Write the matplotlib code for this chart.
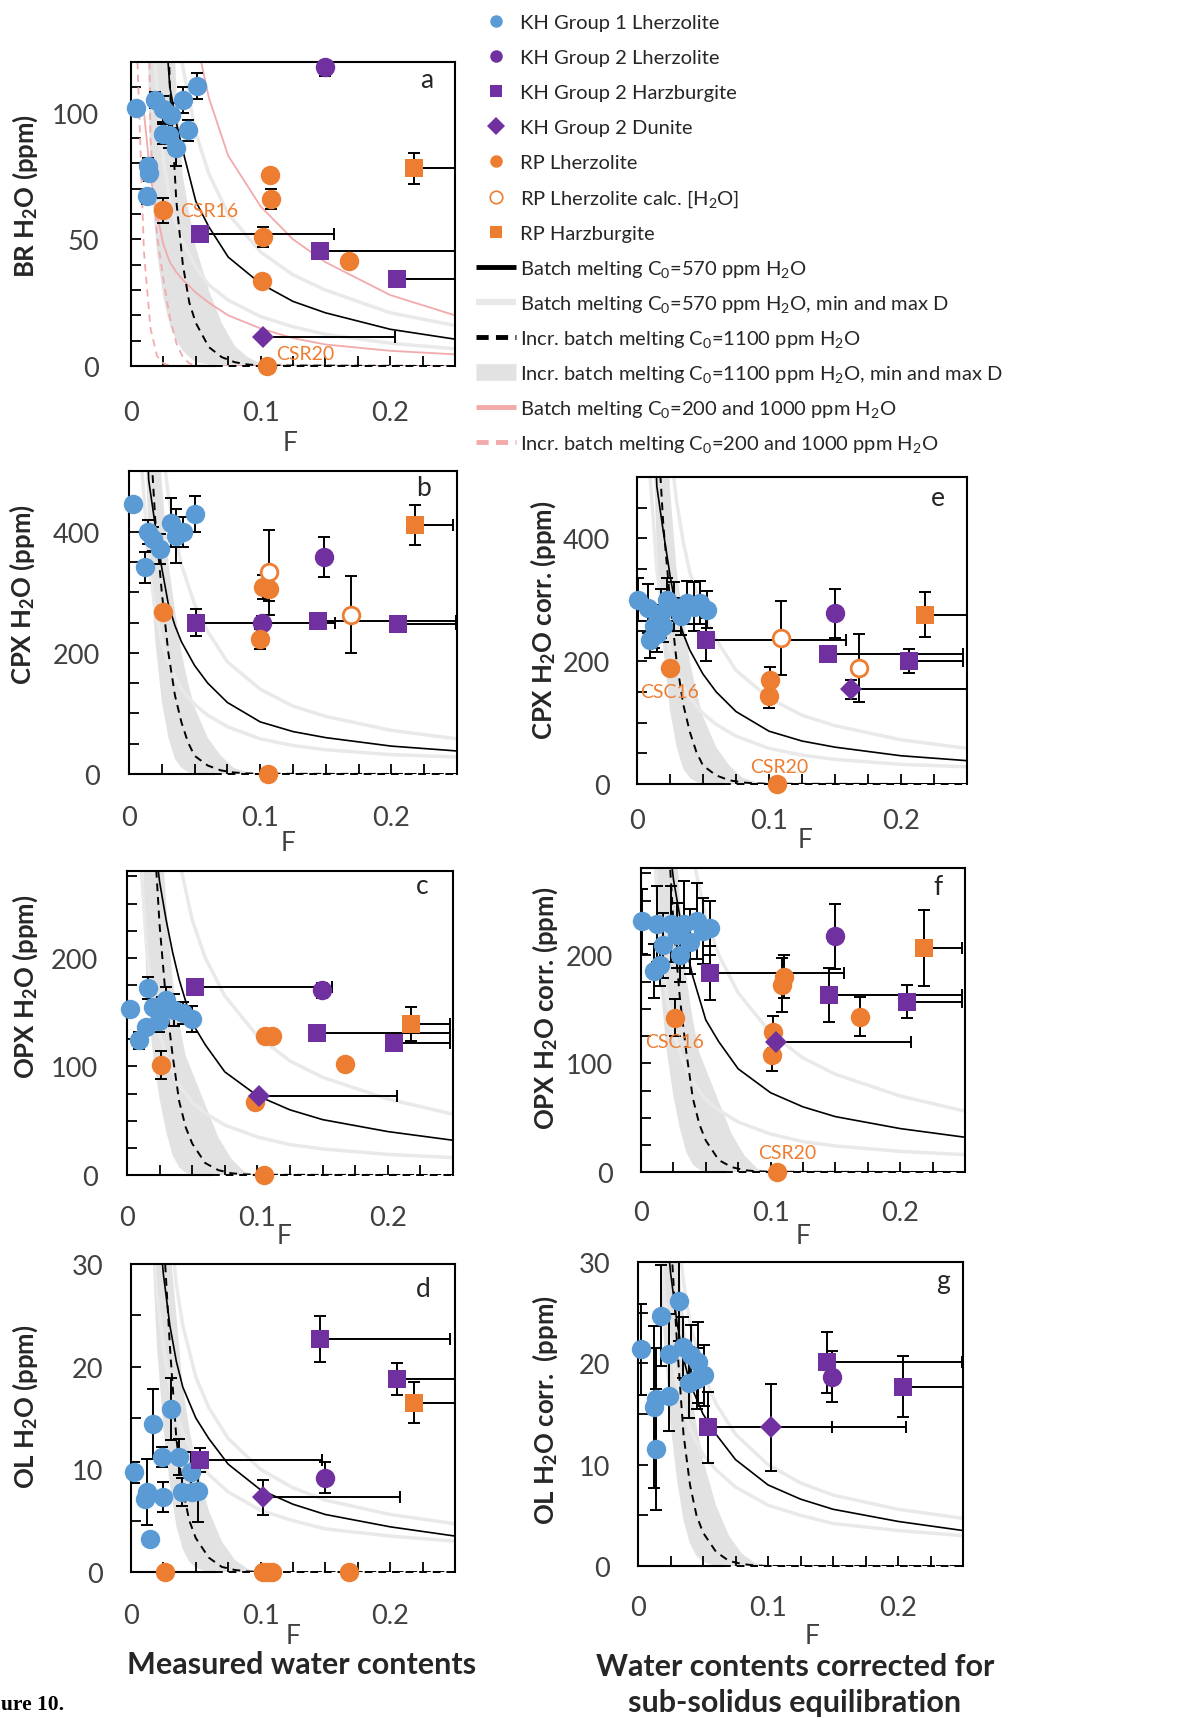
import matplotlib
matplotlib.use("Agg")
import matplotlib.pyplot as plt
from matplotlib.lines import Line2D
from matplotlib.ticker import MultipleLocator, FuncFormatter

plt.rcParams["font.family"] = ["Lato", "DejaVu Sans"]
plt.rcParams["mathtext.fontset"] = "custom"
plt.rcParams["mathtext.rm"] = "Lato"
plt.rcParams["mathtext.it"] = "Lato:italic"
plt.rcParams["mathtext.bf"] = "Lato:bold"

# ---------------------------------------------------------------------------
# Melting models (ppm H2O versus melt fraction F)
# ---------------------------------------------------------------------------
F_BATCH = [0.01, 0.015, 0.02, 0.025, 0.03, 0.035, 0.04, 0.05, 0.06, 0.075, 0.1, 0.125, 0.15, 0.2, 0.25]
F_INCR = [0.005, 0.01, 0.015, 0.02, 0.025, 0.03, 0.035, 0.04, 0.045, 0.05, 0.06, 0.07, 0.08, 0.09, 0.1, 0.25]

# bulk rock
BR_BATCH = [500, 300, 220, 145, 110, 96, 85, 65, 55, 43, 32.5, 25.5, 21, 14.5, 10.6]
BR_BATCH_MAX = [700, 420, 300, 210, 160, 135, 118, 92, 76, 60, 45, 36, 30, 21, 16]
BR_BATCH_MIN = [220, 150, 110, 82, 65, 56, 49, 39, 32, 26, 19.5, 15.5, 12.5, 9, 6.8]
BR_BATCH_1000 = [900, 600, 420, 310, 240, 195, 165, 130, 106, 83, 63, 50, 41, 28, 20]
BR_BATCH_200 = [100, 75, 60, 48, 41, 37, 34, 29, 25, 20, 14.8, 11, 8.5, 6, 4.6]
BR_INCR = [4000, 2000, 900, 400, 200, 110, 65, 40, 25, 17, 7.5, 3.5, 1.5, 0.6, 0.2, 0]
BR_INCR_LO = [600, 200, 75, 45, 27, 16, 10, 6, 3.5, 1.6, 0.5, 0, 0, 0, 0, 0]
BR_INCR_HI = [5000, 2500, 1200, 600, 300, 170, 110, 75, 60, 47, 30, 17, 8, 3.5, 1, 0]
BR_INCR_200 = [120, 45, 15, 4, 1, 0.2, 0, 0, 0, 0, 0, 0, 0, 0, 0, 0]
BR_INCR_1000 = [900, 300, 90, 52, 34, 19, 9, 3.5, 1, 0.2, 0, 0, 0, 0, 0, 0]

# clinopyroxene
CPX_BATCH = [800, 485, 410, 340, 280, 245, 218, 179, 150, 118, 86, 70, 60, 46, 38]
CPX_BATCH_MAX = [1400, 900, 680, 550, 460, 395, 345, 280, 235, 185, 140, 112, 95, 72, 58]
CPX_BATCH_MIN = [500, 350, 270, 220, 185, 160, 140, 115, 97, 78, 58, 47, 40, 32, 28]
CPX_INCR = [3000, 1200, 600, 420, 300, 200, 130, 85, 52, 30, 14, 6, 2.5, 1, 0.4, 0]
CPX_INCR_LO = [1500, 700, 380, 220, 120, 60, 25, 10, 3, 1, 0, 0, 0, 0, 0, 0]
CPX_INCR_HI = [5000, 2000, 1000, 700, 480, 350, 270, 200, 150, 110, 60, 30, 10, 3, 1, 0]

# orthopyroxene
OPX_BATCH = [600, 420, 320, 270, 235, 205, 180, 140, 120, 95, 73, 60, 51, 40, 32]
OPX_BATCH_MAX = [1000, 700, 550, 450, 380, 330, 290, 235, 200, 165, 128, 105, 90, 70, 56]
OPX_BATCH_MIN = [300, 210, 160, 130, 110, 95, 83, 67, 57, 46, 35, 28, 24, 19, 16]
OPX_INCR = [2000, 900, 500, 330, 230, 160, 110, 68, 44, 29, 11, 4.5, 1.6, 0.6, 0.2, 0]
OPX_INCR_LO = [800, 400, 170, 110, 70, 40, 18, 7, 2, 0.5, 0, 0, 0, 0, 0, 0]
OPX_INCR_HI = [3000, 1500, 800, 500, 350, 250, 180, 140, 110, 95, 65, 35, 15, 3, 0.5, 0]

# olivine
OL_BATCH = [80, 50, 36, 29, 24, 20.5, 18, 15, 13, 10.5, 8, 6.6, 5.6, 4.4, 3.5]
OL_BATCH_MAX = [120, 80, 55, 42, 34, 28, 24, 19, 16, 13, 10, 8.2, 7, 5.6, 4.7]
OL_BATCH_MIN = [55, 36, 27, 22, 18, 15.5, 13.5, 11, 9.5, 7.8, 6, 5, 4.2, 3.5, 3]
OL_INCR = [300, 120, 70, 45, 33, 22, 13, 8, 5, 3.3, 1.4, 0.5, 0.2, 0.05, 0, 0]
OL_INCR_LO = [150, 60, 35, 22, 14, 8.5, 4.5, 2.2, 1.0, 0.4, 0, 0, 0, 0, 0, 0]
OL_INCR_HI = [500, 200, 100, 60, 42, 32, 25, 18, 14, 10.5, 6, 3, 1.2, 0.3, 0, 0]

# ---------------------------------------------------------------------------
# Samples: F, H2O (ppm), 1 s.d. on H2O, upper F estimate
# ---------------------------------------------------------------------------
# a - bulk rock
BR_KH1_F = [0.004, 0.012, 0.013, 0.014, 0.0185, 0.025, 0.025, 0.029, 0.031, 0.035, 0.040, 0.044, 0.051]
BR_KH1_Y = [102, 67, 79, 76, 105, 101.5, 91.5, 91, 99, 86, 105, 93, 110.5]
BR_KH1_ERR = [0, 3, 3, 3, 3, 5, 4, 5, 5, 7, 5, 4, 5]
BR_KH2L_F, BR_KH2L_Y, BR_KH2L_ERR = [0.15], [118], [3.5]
BR_KH2H_F = [0.053, 0.146, 0.205]
BR_KH2H_Y = [52, 45.5, 34.5]
BR_KH2H_FMAX = [0.157, 0.3, 0.3]
BR_KH2D_F, BR_KH2D_Y, BR_KH2D_FMAX = [0.102], [11.3], [0.204]
BR_RPL_F = [0.025, 0.107, 0.108, 0.102, 0.101, 0.168, 0.105]
BR_RPL_Y = [61.5, 75.5, 66, 51, 33.5, 41.5, 0]
BR_RPL_ERR = [5, 0, 4, 4, 0, 0, 0]
BR_RPH_F, BR_RPH_Y, BR_RPH_ERR, BR_RPH_FMAX = [0.218], [78], [6], [0.3]

# b - clinopyroxene
CPX_KH1_F = [0.003, 0.0145, 0.018, 0.0234, 0.012, 0.032, 0.036, 0.041, 0.050]
CPX_KH1_Y = [445, 399, 388, 371, 341, 415, 393, 399, 429]
CPX_KH1_ERR = [0, 20, 20, 25, 25, 40, 45, 25, 30]
CPX_KH2L_F, CPX_KH2L_Y, CPX_KH2L_ERR = [0.149, 0.101], [358, 250], [33, 10]
CPX_KH2H_F = [0.051, 0.144, 0.205]
CPX_KH2H_Y = [250, 252, 248]
CPX_KH2H_ERR = [22, 0, 0]
CPX_KH2H_FMAX = [0.157, 0.249, 0.249]
CPX_RPL_F = [0.026, 0.102, 0.107, 0.100, 0.106]
CPX_RPL_Y = [267, 308, 306, 223, 0]
CPX_RPL_ERR = [0, 20, 20, 16, 0]
CPX_RPLC_F, CPX_RPLC_Y, CPX_RPLC_ERR = [0.107, 0.169], [333, 263], [70, 64]
CPX_RPH_F, CPX_RPH_Y, CPX_RPH_ERR, CPX_RPH_FMAX = [0.218], [411], [33], [0.247]

# c - orthopyroxene
OPX_KH1_F = [0.002, 0.0095, 0.0146, 0.016, 0.0197, 0.0248, 0.027, 0.030, 0.036, 0.0427, 0.050]
OPX_KH1_Y = [153, 124, 136, 172, 155, 142, 152, 161, 152, 149, 144]
OPX_KH1_ERR = [0, 8, 0, 10, 0, 10, 12, 12, 15, 10, 12]
OPX_KH2L_F, OPX_KH2L_Y, OPX_KH2L_ERR = [0.1495], [170], [7]
OPX_KH2H_F = [0.052, 0.146, 0.2045]
OPX_KH2H_Y = [173, 131, 122]
OPX_KH2H_FMAX = [0.157, 0.248, 0.248]
OPX_KH2D_F, OPX_KH2D_Y, OPX_KH2D_FMAX = [0.101], [73], [0.207]
OPX_RPL_F = [0.026, 0.106, 0.111, 0.167, 0.098, 0.105]
OPX_RPL_Y = [101, 128, 128, 102, 67, 0]
OPX_RPL_ERR = [13, 0, 0, 0, 0, 0]
OPX_RPH_F, OPX_RPH_Y, OPX_RPH_ERR, OPX_RPH_FMAX = [0.218], [139], [16], [0.248]

# d - olivine
OL_KH1_F = [0.002, 0.011, 0.012, 0.015, 0.017, 0.024, 0.025, 0.031, 0.037, 0.039, 0.046, 0.047, 0.052]
OL_KH1_Y = [9.7, 7.1, 7.8, 3.2, 14.4, 11.2, 7.3, 15.9, 11.2, 7.8, 9.7, 7.8, 7.9]
OL_KH1_ERR = [1, 0, 3.2, 0.5, 3.4, 1, 1.5, 3, 1.8, 1.4, 2, 0, 3]
OL_KH2L_F, OL_KH2L_Y, OL_KH2L_ERR = [0.15], [9.2], [1.5]
OL_KH2H_F = [0.053, 0.146, 0.205]
OL_KH2H_Y = [10.9, 22.7, 18.8]
OL_KH2H_ERR = [1.2, 2.2, 1.6]
OL_KH2H_FMAX = [0.147, 0.246, 0.3]
OL_KH2D_F, OL_KH2D_Y, OL_KH2D_ERR, OL_KH2D_FMAX = [0.102], [7.3], [1.7], [0.2075]
OL_RPL_F = [0.026, 0.102, 0.105, 0.109, 0.168]
OL_RPL_Y = [0, 0, 0, 0, 0]
OL_RPH_F, OL_RPH_Y, OL_RPH_ERR, OL_RPH_FMAX = [0.218], [16.5], [2], [0.3]

# e - clinopyroxene, corrected
CPXC_KH1_F = [0.001, 0.008, 0.010, 0.013, 0.015, 0.018, 0.020, 0.023, 0.028, 0.033, 0.038, 0.043, 0.048, 0.053]
CPXC_KH1_Y = [300, 286, 235, 257, 245, 278, 257, 300, 289, 273, 295, 289, 295, 284]
CPXC_KH1_ERR = [35, 40, 30, 35, 30, 40, 25, 35, 40, 30, 35, 40, 35, 30]
CPXC_KH2L_F, CPXC_KH2L_Y, CPXC_KH2L_ERR = [0.150], [278], [40]
CPXC_KH2H_F = [0.052, 0.145, 0.206]
CPXC_KH2H_Y = [235, 211, 200]
CPXC_KH2H_ERR = [35, 0, 20]
CPXC_KH2H_FMAX = [0.158, 0.247, 0.247]
CPXC_KH2D_F, CPXC_KH2D_Y, CPXC_KH2D_ERR, CPXC_KH2D_FMAX = [0.162], [154], [15], [0.3]
CPXC_RPL_F = [0.025, 0.101, 0.100, 0.106]
CPXC_RPL_Y = [189, 170, 143, 0]
CPXC_RPL_ERR = [0, 20, 20, 0]
CPXC_RPLC_F, CPXC_RPLC_Y, CPXC_RPLC_ERR = [0.109, 0.168], [238, 189], [60, 55]
CPXC_RPH_F, CPXC_RPH_Y, CPXC_RPH_ERR, CPXC_RPH_FMAX = [0.218], [276], [37], [0.3]

# f - orthopyroxene, corrected
OPXC_KH1_F = [0.001, 0.010, 0.012, 0.015, 0.017, 0.023, 0.028, 0.030, 0.033, 0.038, 0.043, 0.048, 0.053]
OPXC_KH1_Y = [231, 185, 228, 191, 209, 228, 218, 200, 228, 212, 231, 222, 225]
OPXC_KH1_ERR = [30, 25, 35, 20, 30, 35, 30, 25, 40, 30, 35, 30, 25]
OPXC_KH2L_F, OPXC_KH2L_Y, OPXC_KH2L_ERR = [0.150], [217], [30]
OPXC_KH2H_F = [0.053, 0.145, 0.205]
OPXC_KH2H_Y = [183, 163, 157]
OPXC_KH2H_ERR = [25, 25, 15]
OPXC_KH2H_FMAX = [0.157, 0.248, 0.248]
OPXC_KH2D_F, OPXC_KH2D_Y, OPXC_KH2D_FMAX = [0.104], [120], [0.208]
OPXC_RPL_F = [0.026, 0.110, 0.109, 0.102, 0.101, 0.169, 0.105]
OPXC_RPL_Y = [142, 180, 172, 129, 108, 143, 0]
OPXC_RPL_ERR = [17, 20, 25, 15, 15, 18, 0]
OPXC_RPH_F, OPXC_RPH_Y, OPXC_RPH_ERR, OPXC_RPH_FMAX = [0.218], [206], [35], [0.248]

# g - olivine, corrected
OLC_KH1_F = [0.0023, 0.0125, 0.0138, 0.0138, 0.0177, 0.024, 0.024, 0.0318, 0.0344, 0.0395, 0.041, 0.045, 0.046, 0.051]
OLC_KH1_Y = [21.4, 15.7, 16.5, 11.5, 24.7, 16.8, 20.9, 26.2, 21.6, 18.1, 20.8, 18.5, 20.1, 18.8]
OLC_KH1_ERR = [4.5, 8, 5, 6, 5, 3.5, 4, 4, 3, 3.5, 3, 3, 4, 3]
OLC_KH2L_F, OLC_KH2L_Y, OLC_KH2L_ERR = [0.149], [18.7], [2.5]
OLC_KH2H_F = [0.054, 0.145, 0.204]
OLC_KH2H_Y = [13.7, 20.1, 17.7]
OLC_KH2H_ERR = [3.5, 3, 3]
OLC_KH2H_FMAX = [0.149, 0.249, 0.3]
OLC_KH2D_F, OLC_KH2D_Y, OLC_KH2D_ERR, OLC_KH2D_FMAX = [0.1026], [13.7], [4.3], [0.206]

LEGEND_LABELS = [
    "KH Group 1 Lherzolite",
    "KH Group 2 Lherzolite",
    "KH Group 2 Harzburgite",
    "KH Group 2 Dunite",
    "RP Lherzolite",
    "RP Lherzolite calc. [H$_2$O]",
    "RP Harzburgite",
    "Batch melting C$_0$=570 ppm H$_2$O",
    "Batch melting C$_0$=570 ppm H$_2$O, min and max D",
    "Incr. batch melting C$_0$=1100 ppm H$_2$O",
    "Incr. batch melting C$_0$=1100 ppm H$_2$O, min and max D",
    "Batch melting C$_0$=200 and 1000 ppm H$_2$O",
    "Incr. batch melting C$_0$=200 and 1000 ppm H$_2$O",
]

# ---------------------------------------------------------------------------
BLUE = "#5b9bd5"
PURPLE = "#7030a0"
ORANGE = "#ed7d31"
GREY_LINE = "#e9e9e9"
GREY_BAND = "#e2e2e2"
PINK = "#f2aaaa"
DASH = (0, (4, 3))
TICK_COLOR = "#404040"
TEXT_COLOR = "#262626"

W, H = 1185, 1724
fig = plt.figure(figsize=(W / 100, H / 100), dpi=100)


def px(x, y):
    """Pixel position (from top left) to figure fraction."""
    return x / W, 1 - y / H


def make_axes(l, t, r, b):
    return fig.add_axes([l / W, 1 - b / H, (r - l) / W, (b - t) / H])


def draw_models(ax, batch, bmin, bmax, incr, ilo, ihi):
    ax.fill_between(F_INCR, ilo, ihi, color=GREY_BAND, lw=0, zorder=1)
    ax.plot(F_BATCH, bmin, color=GREY_LINE, lw=2.5, zorder=1.5)
    ax.plot(F_BATCH, bmax, color=GREY_LINE, lw=2.5, zorder=1.5)
    ax.plot(F_BATCH, batch, color="k", lw=1.2, zorder=2)
    ax.plot(F_INCR, incr, color="k", lw=1.4, ls=DASH, zorder=2)


def draw_points(ax, f, y, err=None, fmax=None, marker="o", color=BLUE,
                hollow=False, ms=14):
    xerr = None
    if fmax is not None:
        xerr = [[0] * len(f), [m - x for m, x in zip(fmax, f)]]
    if err is not None or xerr is not None:
        ax.errorbar(f, y, yerr=err, xerr=xerr, fmt="none", ecolor="k",
                    elinewidth=1.4, capsize=4, capthick=1.4, zorder=3)
    ax.plot(f, y, ls="none", marker=marker, ms=ms,
            mfc="white" if hollow else color, mec=color,
            mew=2 if hollow else 0, zorder=4, clip_on=False)


def style_axes(ax, ymax, ymajor, yminor, ylabel, xpad, ypad,
               ylab_pos, xlab_pos, letter_pos, letter):
    ax.set_xlim(0, 0.25)
    ax.set_ylim(0, ymax)
    ax.xaxis.set_major_locator(MultipleLocator(0.1))
    ax.xaxis.set_minor_locator(MultipleLocator(0.025))
    ax.yaxis.set_major_locator(MultipleLocator(ymajor))
    ax.yaxis.set_minor_locator(MultipleLocator(yminor))
    fmt = FuncFormatter(lambda v, _: f"{v:g}")
    ax.xaxis.set_major_formatter(fmt)
    ax.yaxis.set_major_formatter(fmt)
    ax.tick_params(which="both", direction="in", length=7, width=1.3,
                   top=False, right=False, labelsize=19.5, labelcolor=TICK_COLOR)
    ax.tick_params(axis="x", which="major", pad=xpad)
    ax.tick_params(axis="y", which="major", pad=ypad)
    for side in ax.spines.values():
        side.set_linewidth(1.5)
    # the x axis line is solid only until the incremental model reaches zero
    ax.spines["bottom"].set_bounds(0, 0.065)
    ax.axhline(0, xmin=0.065 / 0.25, xmax=1, color="k", lw=1.4, ls=DASH,
               clip_on=False, zorder=2.5)

    ax.set_ylabel(ylabel, fontsize=18.5, fontweight="bold", color=TEXT_COLOR)
    ax.yaxis.set_label_coords(*px(*ylab_pos), transform=fig.transFigure)
    ax.set_xlabel("F", fontsize=19, color=TICK_COLOR)
    ax.xaxis.set_label_coords(*px(*xlab_pos), transform=fig.transFigure)
    fig.text(*px(*letter_pos), letter, fontsize=19, color=TEXT_COLOR,
             ha="center", va="center")


# ---- panel a ---------------------------------------------------------------
ax = make_axes(131, 63, 455, 367)
ax.plot(F_BATCH, BR_BATCH_200, color=PINK, lw=1.3, zorder=1.6)
ax.plot(F_BATCH, BR_BATCH_1000, color=PINK, lw=1.3, zorder=1.6)
ax.plot(F_INCR, BR_INCR_200, color=PINK, lw=1.3, ls=DASH, zorder=1.6)
ax.plot(F_INCR, BR_INCR_1000, color=PINK, lw=1.3, ls=DASH, zorder=1.6)
draw_models(ax, BR_BATCH, BR_BATCH_MIN, BR_BATCH_MAX, BR_INCR, BR_INCR_LO, BR_INCR_HI)
draw_points(ax, BR_KH1_F, BR_KH1_Y, BR_KH1_ERR)
draw_points(ax, BR_KH2L_F, BR_KH2L_Y, BR_KH2L_ERR, color=PURPLE)
draw_points(ax, BR_KH2H_F, BR_KH2H_Y, fmax=BR_KH2H_FMAX, marker="s", color=PURPLE, ms=13)
draw_points(ax, BR_KH2D_F, BR_KH2D_Y, fmax=BR_KH2D_FMAX, marker="D", color=PURPLE, ms=11)
draw_points(ax, BR_RPL_F, BR_RPL_Y, BR_RPL_ERR, color=ORANGE)
draw_points(ax, BR_RPH_F, BR_RPH_Y, BR_RPH_ERR, BR_RPH_FMAX, marker="s", color=ORANGE, ms=13)
ax.text(BR_RPL_F[0] + 0.013, BR_RPL_Y[0], "CSR16", color=ORANGE, fontsize=14, va="center", zorder=5)
ax.text(BR_RPL_F[-1] + 0.007, 5, "CSR20", color=ORANGE, fontsize=14, va="center", zorder=5)
style_axes(ax, 120, 50, 10, r"BR H$_\mathbf{2}$O (ppm)", 24.5, 23,
           (40, 196), (290, 431), (427, 80), "a")

# ---- panel b ---------------------------------------------------------------
ax = make_axes(129, 472, 457, 775)
draw_models(ax, CPX_BATCH, CPX_BATCH_MIN, CPX_BATCH_MAX, CPX_INCR, CPX_INCR_LO, CPX_INCR_HI)
draw_points(ax, CPX_KH1_F, CPX_KH1_Y, CPX_KH1_ERR)
draw_points(ax, CPX_KH2L_F, CPX_KH2L_Y, CPX_KH2L_ERR, color=PURPLE)
draw_points(ax, CPX_KH2H_F, CPX_KH2H_Y, CPX_KH2H_ERR, CPX_KH2H_FMAX, marker="s", color=PURPLE, ms=13)
draw_points(ax, CPX_RPL_F, CPX_RPL_Y, CPX_RPL_ERR, color=ORANGE)
draw_points(ax, CPX_RPLC_F, CPX_RPLC_Y, CPX_RPLC_ERR, color=ORANGE, hollow=True, ms=12)
draw_points(ax, CPX_RPH_F, CPX_RPH_Y, CPX_RPH_ERR, CPX_RPH_FMAX, marker="s", color=ORANGE, ms=13)
style_axes(ax, 500, 200, 50, r"CPX H$_\mathbf{2}$O (ppm)", 22, 21,
           (37, 595), (288, 831), (423, 488), "b")

# ---- panel c ---------------------------------------------------------------
ax = make_axes(127, 872, 453, 1176)
draw_models(ax, OPX_BATCH, OPX_BATCH_MIN, OPX_BATCH_MAX, OPX_INCR, OPX_INCR_LO, OPX_INCR_HI)
draw_points(ax, OPX_KH1_F, OPX_KH1_Y, OPX_KH1_ERR)
draw_points(ax, OPX_KH2L_F, OPX_KH2L_Y, OPX_KH2L_ERR, color=PURPLE)
draw_points(ax, OPX_KH2H_F, OPX_KH2H_Y, fmax=OPX_KH2H_FMAX, marker="s", color=PURPLE, ms=13)
draw_points(ax, OPX_RPL_F, OPX_RPL_Y, OPX_RPL_ERR, color=ORANGE)
draw_points(ax, OPX_KH2D_F, OPX_KH2D_Y, fmax=OPX_KH2D_FMAX, marker="D", color=PURPLE, ms=11)
draw_points(ax, OPX_RPH_F, OPX_RPH_Y, OPX_RPH_ERR, OPX_RPH_FMAX, marker="s", color=ORANGE, ms=13)
style_axes(ax, 280, 100, 25, r"OPX H$_\mathbf{2}$O (ppm)", 21.5, 21,
           (40, 987), (284, 1224), (422, 887), "c")

# ---- panel d ---------------------------------------------------------------
ax = make_axes(131, 1265, 455, 1573)
draw_models(ax, OL_BATCH, OL_BATCH_MIN, OL_BATCH_MAX, OL_INCR, OL_INCR_LO, OL_INCR_HI)
draw_points(ax, OL_KH1_F, OL_KH1_Y, OL_KH1_ERR)
draw_points(ax, OL_KH2L_F, OL_KH2L_Y, OL_KH2L_ERR, color=PURPLE)
draw_points(ax, OL_KH2H_F, OL_KH2H_Y, OL_KH2H_ERR, OL_KH2H_FMAX, marker="s", color=PURPLE, ms=13)
draw_points(ax, OL_KH2D_F, OL_KH2D_Y, OL_KH2D_ERR, OL_KH2D_FMAX, marker="D", color=PURPLE, ms=11)
draw_points(ax, OL_RPL_F, OL_RPL_Y, color=ORANGE)
draw_points(ax, OL_RPH_F, OL_RPH_Y, OL_RPH_ERR, OL_RPH_FMAX, marker="s", color=ORANGE, ms=13)
style_axes(ax, 30, 10, 5, r"OL H$_\mathbf{2}$O (ppm)", 22, 20,
           (40, 1407), (293, 1624), (423, 1290), "d")

# ---- panel e ---------------------------------------------------------------
ax = make_axes(637, 478, 967, 785)
draw_models(ax, CPX_BATCH, CPX_BATCH_MIN, CPX_BATCH_MAX, CPX_INCR, CPX_INCR_LO, CPX_INCR_HI)
draw_points(ax, CPXC_KH1_F, CPXC_KH1_Y, CPXC_KH1_ERR)
draw_points(ax, CPXC_KH2L_F, CPXC_KH2L_Y, CPXC_KH2L_ERR, color=PURPLE)
draw_points(ax, CPXC_KH2H_F, CPXC_KH2H_Y, CPXC_KH2H_ERR, CPXC_KH2H_FMAX, marker="s", color=PURPLE, ms=13)
draw_points(ax, CPXC_KH2D_F, CPXC_KH2D_Y, CPXC_KH2D_ERR, CPXC_KH2D_FMAX, marker="D", color=PURPLE, ms=11)
draw_points(ax, CPXC_RPL_F, CPXC_RPL_Y, CPXC_RPL_ERR, color=ORANGE)
draw_points(ax, CPXC_RPLC_F, CPXC_RPLC_Y, CPXC_RPLC_ERR, color=ORANGE, hollow=True, ms=12)
draw_points(ax, CPXC_RPH_F, CPXC_RPH_Y, CPXC_RPH_ERR, CPXC_RPH_FMAX, marker="s", color=ORANGE, ms=13)
ax.text(CPXC_RPL_F[0], 150, "CSC16", color=ORANGE, fontsize=14, ha="center", va="center", zorder=5)
ax.text(CPXC_RPL_F[-1] + 0.002, 28, "CSR20", color=ORANGE, fontsize=14, ha="center", va="center", zorder=5)
style_axes(ax, 500, 200, 50, r"CPX H$_\mathbf{2}$O corr. (ppm)", 17.5, 19.5,
           (558, 620), (805, 828), (938, 498), "e")

# ---- panel f ---------------------------------------------------------------
ax = make_axes(641, 869, 965, 1173)
draw_models(ax, OPX_BATCH, OPX_BATCH_MIN, OPX_BATCH_MAX, OPX_INCR, OPX_INCR_LO, OPX_INCR_HI)
draw_points(ax, OPXC_KH1_F, OPXC_KH1_Y, OPXC_KH1_ERR)
draw_points(ax, OPXC_KH2L_F, OPXC_KH2L_Y, OPXC_KH2L_ERR, color=PURPLE)
draw_points(ax, OPXC_KH2H_F, OPXC_KH2H_Y, OPXC_KH2H_ERR, OPXC_KH2H_FMAX, marker="s", color=PURPLE, ms=13)
draw_points(ax, OPXC_RPL_F, OPXC_RPL_Y, OPXC_RPL_ERR, color=ORANGE)
draw_points(ax, OPXC_KH2D_F, OPXC_KH2D_Y, fmax=OPXC_KH2D_FMAX, marker="D", color=PURPLE, ms=11)
draw_points(ax, OPXC_RPH_F, OPXC_RPH_Y, OPXC_RPH_ERR, OPXC_RPH_FMAX, marker="s", color=ORANGE, ms=13)
ax.text(OPXC_RPL_F[0], 120, "CSC16", color=ORANGE, fontsize=14, ha="center", va="center", zorder=5)
ax.text(OPXC_RPL_F[-1] + 0.008, 18, "CSR20", color=ORANGE, fontsize=14, ha="center", va="center", zorder=5)
style_axes(ax, 280, 100, 25, r"OPX H$_\mathbf{2}$O corr. (ppm)", 20, 20,
           (560, 1008), (803, 1224), (938, 888), "f")

# ---- panel g ---------------------------------------------------------------
ax = make_axes(638, 1263, 963, 1567)
draw_models(ax, OL_BATCH, OL_BATCH_MIN, OL_BATCH_MAX, OL_INCR, OL_INCR_LO, OL_INCR_HI)
draw_points(ax, OLC_KH1_F, OLC_KH1_Y, OLC_KH1_ERR)
draw_points(ax, OLC_KH2L_F, OLC_KH2L_Y, OLC_KH2L_ERR, color=PURPLE)
draw_points(ax, OLC_KH2H_F, OLC_KH2H_Y, OLC_KH2H_ERR, OLC_KH2H_FMAX, marker="s", color=PURPLE, ms=13)
draw_points(ax, OLC_KH2D_F, OLC_KH2D_Y, OLC_KH2D_ERR, OLC_KH2D_FMAX, marker="D", color=PURPLE, ms=11)
style_axes(ax, 30, 10, 5, r"OL H$_\mathbf{2}$O corr.  (ppm)", 21, 20,
           (560, 1410), (812, 1624), (943, 1282), "g")

# ---- legend (drawn row by row so every line gets the same height) ----------
legend_keys = [
    dict(marker="o", mfc=BLUE),
    dict(marker="o", mfc=PURPLE),
    dict(marker="s", mfc=PURPLE),
    dict(marker="D", mfc=PURPLE),
    dict(marker="o", mfc=ORANGE),
    dict(marker="o", mfc="white", mec=ORANGE, mew=1.2),
    dict(marker="s", mfc=ORANGE),
    dict(color="k", lw=3.5),
    dict(color=GREY_LINE, lw=4.5),
    dict(color="k", lw=3.5, ls=(0, (2.5, 1.5))),
    dict(color=GREY_BAND, lw=12),
    dict(color=PINK, lw=3.5),
    dict(color=PINK, lw=3.5, ls=(0, (2.5, 1.5))),
]
for i, (key, label) in enumerate(zip(legend_keys, LEGEND_LABELS)):
    row_y = 22 + 35.1 * i
    if "marker" in key:
        (kx,), (ky,) = zip(px(496, row_y))
        style = dict(ls="none", ms=9, mew=0)
        style.update(key)
        fig.add_artist(Line2D([kx], [ky], transform=fig.transFigure, **style))
    else:
        x0, y0 = px(476, row_y)
        x1, _ = px(516, row_y)
        fig.add_artist(Line2D([x0, x1], [y0, y0], transform=fig.transFigure,
                              solid_capstyle="butt", dash_capstyle="butt", **key))
    fig.text(*px(520, row_y + 7), label, fontsize=14.5, color=TEXT_COLOR,
             ha="left", va="baseline")

# ---- captions --------------------------------------------------------------
fig.text(*px(302, 1665), "Measured water contents", fontsize=22,
         fontweight="bold", color=TEXT_COLOR, ha="center", va="center")
fig.text(*px(795, 1667), "Water contents corrected for", fontsize=22,
         fontweight="bold", color=TEXT_COLOR, ha="center", va="center")
fig.text(*px(795, 1703), "sub-solidus equilibration", fontsize=22,
         fontweight="bold", color=TEXT_COLOR, ha="center", va="center")
fig.text(*px(1, 1705), "ure 10.", fontsize=15.5, fontweight="bold",
         family="Liberation Serif", ha="left", va="center")

fig.savefig("out.png", dpi=100)
